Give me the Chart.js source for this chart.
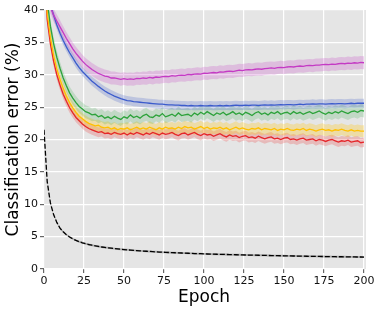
<!DOCTYPE html>
<html>
<head>
<meta charset="utf-8">
<script src="https://cdn.jsdelivr.net/npm/chart.js@4/dist/chart.umd.min.js"></script>
<style>
html,body{margin:0;padding:0;background:#fff;}
canvas{display:block;}
</style>
</head>
<body>
<canvas id="c" width="381" height="311"></canvas>
<script>
const epochs = [0,2,4,6,8,10,12,14,16,18,20,22,24,26,28,30,32,34,36,38,40,42,44,46,48,50,52,54,56,58,60,62,64,66,68,70,72,74,76,78,80,82,84,86,88,90,92,94,96,98,100,102,104,106,108,110,112,114,116,118,120,122,124,126,128,130,132,134,136,138,140,142,144,146,148,150,152,154,156,158,160,162,164,166,168,170,172,174,176,178,180,182,184,186,188,190,192,194,196,198,200];

const magentaErr = [47,43.5,40.5,39.2,38.3,37.4,36.5,35.6,34.8,34.0,
33.3,32.7,32.1,31.6,31.2,30.8,30.5,30.2,30.0,29.8,
29.7,29.5,29.5,29.4,29.3,29.4,29.3,29.35,29.3,29.45,
29.4,29.5,29.45,29.6,29.5,29.65,29.6,29.7,29.75,29.7,
29.85,29.8,29.9,29.95,29.9,30.05,30.0,30.1,30.15,30.1,
30.25,30.2,30.3,30.35,30.3,30.45,30.4,30.5,30.55,30.5,
30.6,30.7,30.65,30.75,30.8,30.75,30.85,30.9,30.85,30.95,
31.0,31.05,31.0,31.1,31.15,31.1,31.2,31.25,31.2,31.3,
31.35,31.3,31.4,31.45,31.4,31.5,31.5,31.55,31.6,31.55,
31.65,31.6,31.7,31.75,31.7,31.8,31.75,31.85,31.8,31.9,
31.85];

const blueErr = [50,45,40.8,39.2,37.7,36.4,35.3,34.3,33.4,32.6,
31.8,31.1,30.5,30.0,29.5,29.0,28.6,28.2,27.85,27.5,
27.2,26.95,26.7,26.5,26.3,26.15,26.0,25.95,25.85,25.8,
25.75,25.7,25.65,25.6,25.55,25.5,25.45,25.45,25.4,25.35,
25.35,25.3,25.3,25.25,25.25,25.2,25.25,25.2,25.2,25.25,
25.2,25.2,25.25,25.2,25.2,25.25,25.2,25.25,25.2,25.25,
25.3,25.25,25.25,25.3,25.25,25.3,25.3,25.25,25.3,25.35,
25.3,25.35,25.3,25.35,25.4,25.35,25.4,25.4,25.35,25.4,
25.45,25.4,25.45,25.45,25.5,25.45,25.5,25.5,25.45,25.5,
25.55,25.5,25.55,25.55,25.5,25.55,25.6,25.55,25.6,25.6,
25.6];

const greenErr = [50,41.5,37.5,34.8,32.7,31.0,29.5,28.3,27.2,26.4,
25.7,25.1,24.7,24.3,24.1,23.8,23.9,23.5,23.7,23.3,
23.5,23.2,23.6,23.3,23.1,23.5,23.3,23.8,23.4,23.6,
23.3,23.7,23.9,23.5,23.4,23.8,23.6,24.0,23.5,23.7,
23.9,23.6,24.1,23.7,23.8,23.9,23.6,24.1,23.8,24.2,
23.9,24.3,24.0,23.7,24.1,23.9,24.2,23.8,24.0,24.3,
23.9,24.1,23.8,24.2,24.0,23.7,24.1,24.3,23.9,24.1,
23.8,24.2,24.0,24.3,23.9,24.1,24.2,23.9,24.3,24.0,
24.2,23.9,24.1,24.3,24.0,24.2,24.4,24.1,23.9,24.2,
24.0,24.3,24.1,24.4,24.2,24.0,24.3,24.4,24.2,24.5,
24.4];

const yellowErr = [49,39.5,35.8,33.0,30.9,29.3,27.9,26.7,25.7,24.9,
24.2,23.6,23.2,22.8,22.5,22.3,22.1,22.2,21.9,21.8,
21.9,21.6,21.8,21.5,21.7,21.6,21.8,21.5,21.7,21.9,
21.6,21.8,21.6,21.9,21.7,21.5,21.8,21.6,21.9,21.7,
21.8,21.6,21.9,21.7,22.0,21.8,21.9,21.6,21.8,22.0,
21.7,21.9,21.6,21.8,21.7,21.9,21.6,21.8,21.5,21.7,
21.9,21.6,21.8,21.6,21.5,21.7,21.6,21.8,21.5,21.7,
21.6,21.5,21.7,21.4,21.6,21.5,21.7,21.5,21.4,21.6,
21.5,21.7,21.4,21.6,21.5,21.3,21.5,21.6,21.4,21.5,
21.3,21.5,21.4,21.6,21.4,21.3,21.5,21.3,21.4,21.3,
21.3];

const redErr = [48,38.5,34.8,32.1,30.0,28.4,27.0,25.9,24.9,24.1,
23.4,22.9,22.4,22.0,21.7,21.5,21.3,21.1,21.2,20.9,
21.0,20.8,21.1,20.9,20.8,21.0,20.7,21.0,20.8,21.1,
20.9,20.7,21.0,20.8,21.1,20.9,20.7,21.0,20.8,20.9,
21.1,20.8,20.6,20.9,21.0,20.7,20.9,21.1,20.8,20.6,
20.9,20.7,20.8,20.5,20.7,20.9,20.6,20.4,20.7,20.5,
20.6,20.3,20.5,20.6,20.3,20.4,20.2,20.5,20.3,20.1,
20.3,20.4,20.1,20.2,20.0,20.2,20.3,20.0,20.1,19.9,
20.1,20.2,19.9,20.0,20.1,19.8,20.0,19.9,19.7,19.9,
20.0,19.8,19.6,19.8,19.7,19.9,19.6,19.7,19.8,19.5,
19.6];

const trainErr = [21.5,13.5,10.2,8.4,7.2,6.3,5.75,5.3,4.95,4.65,
4.42,4.22,4.05,3.9,3.78,3.67,3.57,3.48,3.4,3.33,
3.27,3.21,3.15,3.1,3.05,3.0,2.96,2.92,2.88,2.84,
2.8,2.77,2.74,2.71,2.68,2.65,2.62,2.6,2.57,2.55,
2.53,2.51,2.49,2.47,2.45,2.43,2.41,2.39,2.37,2.36,
2.34,2.32,2.31,2.29,2.28,2.26,2.25,2.24,2.22,2.21,
2.2,2.19,2.17,2.16,2.15,2.14,2.13,2.12,2.11,2.1,
2.09,2.08,2.07,2.06,2.05,2.04,2.03,2.02,2.01,2.0,
1.99,1.98,1.97,1.96,1.96,1.95,1.94,1.93,1.92,1.92,
1.91,1.9,1.89,1.89,1.88,1.87,1.87,1.86,1.85,1.85,
1.84];

// standard deviation of each run (error band half-width)
const magentaSd = 1.0, blueSd = 0.7, greenSd = 1.0, yellowSd = 0.9, redSd = 0.75, trainSd = 0.15;

const xTicks = [0,25,50,75,100,125,150,175,200];
const yTicks = [0,5,10,15,20,25,30,35,40];

const series = [
  {vals: magentaErr, sd: magentaSd, line: '#c43ac4', band: 'rgba(200,70,200,0.25)'},
  {vals: blueErr,    sd: blueSd,    line: '#3b5bcc', band: 'rgba(70,100,205,0.25)'},
  {vals: greenErr,   sd: greenSd,   line: '#2ca23a', band: 'rgba(50,165,70,0.2)'},
  {vals: yellowErr,  sd: yellowSd,  line: '#ffc000', band: 'rgba(255,200,20,0.3)'},
  {vals: redErr,     sd: redSd,     line: '#e5262a', band: 'rgba(235,60,60,0.25)'},
  {vals: trainErr,   sd: trainSd,   line: '#000000', band: 'rgba(0,0,0,0.25)', dash: [5,2]}
];

const pts = (arr, off) => epochs.map((e, i) => ({x: e, y: arr[i] + off}));

const datasets = [];
series.forEach(s => {
  datasets.push({data: pts(s.vals, 0), borderColor: s.line, borderWidth: 1.3, borderDash: s.dash || [], pointRadius: 0, fill: false, order: 0, clip: 0, tension: 0});
});
series.forEach(s => {
  datasets.push({data: pts(s.vals, s.sd), borderWidth: 0, borderColor: 'rgba(0,0,0,0)', backgroundColor: s.band, pointRadius: 0, fill: '+1', order: 1, clip: 0});
  datasets.push({data: pts(s.vals, -s.sd), borderWidth: 0, borderColor: 'rgba(0,0,0,0)', backgroundColor: s.band, pointRadius: 0, fill: false, order: 1, clip: 0});
});

const bgPlugin = {
  id: 'bg',
  beforeDraw(chart) {
    const {ctx, chartArea: a} = chart;
    ctx.save();
    ctx.fillStyle = '#e5e5e5';
    ctx.fillRect(a.left, a.top, a.right - a.left + 2, a.bottom - a.top);
    ctx.restore();
  }
};

new Chart(document.getElementById('c'), {
  type: 'line',
  data: {datasets},
  plugins: [bgPlugin],
  options: {
    responsive: false,
    animation: false,
    devicePixelRatio: 1,
    layout: {padding: {top: 10, right: 17, left: 0, bottom: 0}},
    plugins: {legend: {display: false}, tooltip: {enabled: false}, filler: {drawTime: 'beforeDatasetsDraw'}},
    scales: {
      x: {
        type: 'linear', min: 0, max: 200,
        afterBuildTicks: sc => { sc.ticks = xTicks.map(v => ({value: v})); },
        afterFit: sc => { sc.height = 42; },
        ticks: {font: {family: 'DejaVu Sans', size: 11}, color: '#111', padding: 2, maxRotation: 0},
        grid: {color: '#ffffff', lineWidth: 1.2, tickColor: '#666', tickLength: 4},
        border: {display: false},
        title: {display: true, text: 'Epoch', font: {family: 'DejaVu Sans', size: 17}, color: '#000', padding: {top: 0, bottom: 3}}
      },
      y: {
        type: 'linear', min: 0, max: 40,
        afterBuildTicks: sc => { sc.ticks = yTicks.map(v => ({value: v})); },
        afterFit: sc => { sc.width = 44; },
        ticks: {font: {family: 'DejaVu Sans', size: 11}, color: '#111', padding: 2},
        grid: {color: '#ffffff', lineWidth: 1.2, tickColor: '#666', tickLength: 4},
        border: {display: false},
        title: {display: true, text: 'Classification error (%)', font: {family: 'DejaVu Sans', size: 17}, color: '#000', padding: {top: 3, bottom: 0}}
      }
    }
  }
});
</script>
</body>
</html>
